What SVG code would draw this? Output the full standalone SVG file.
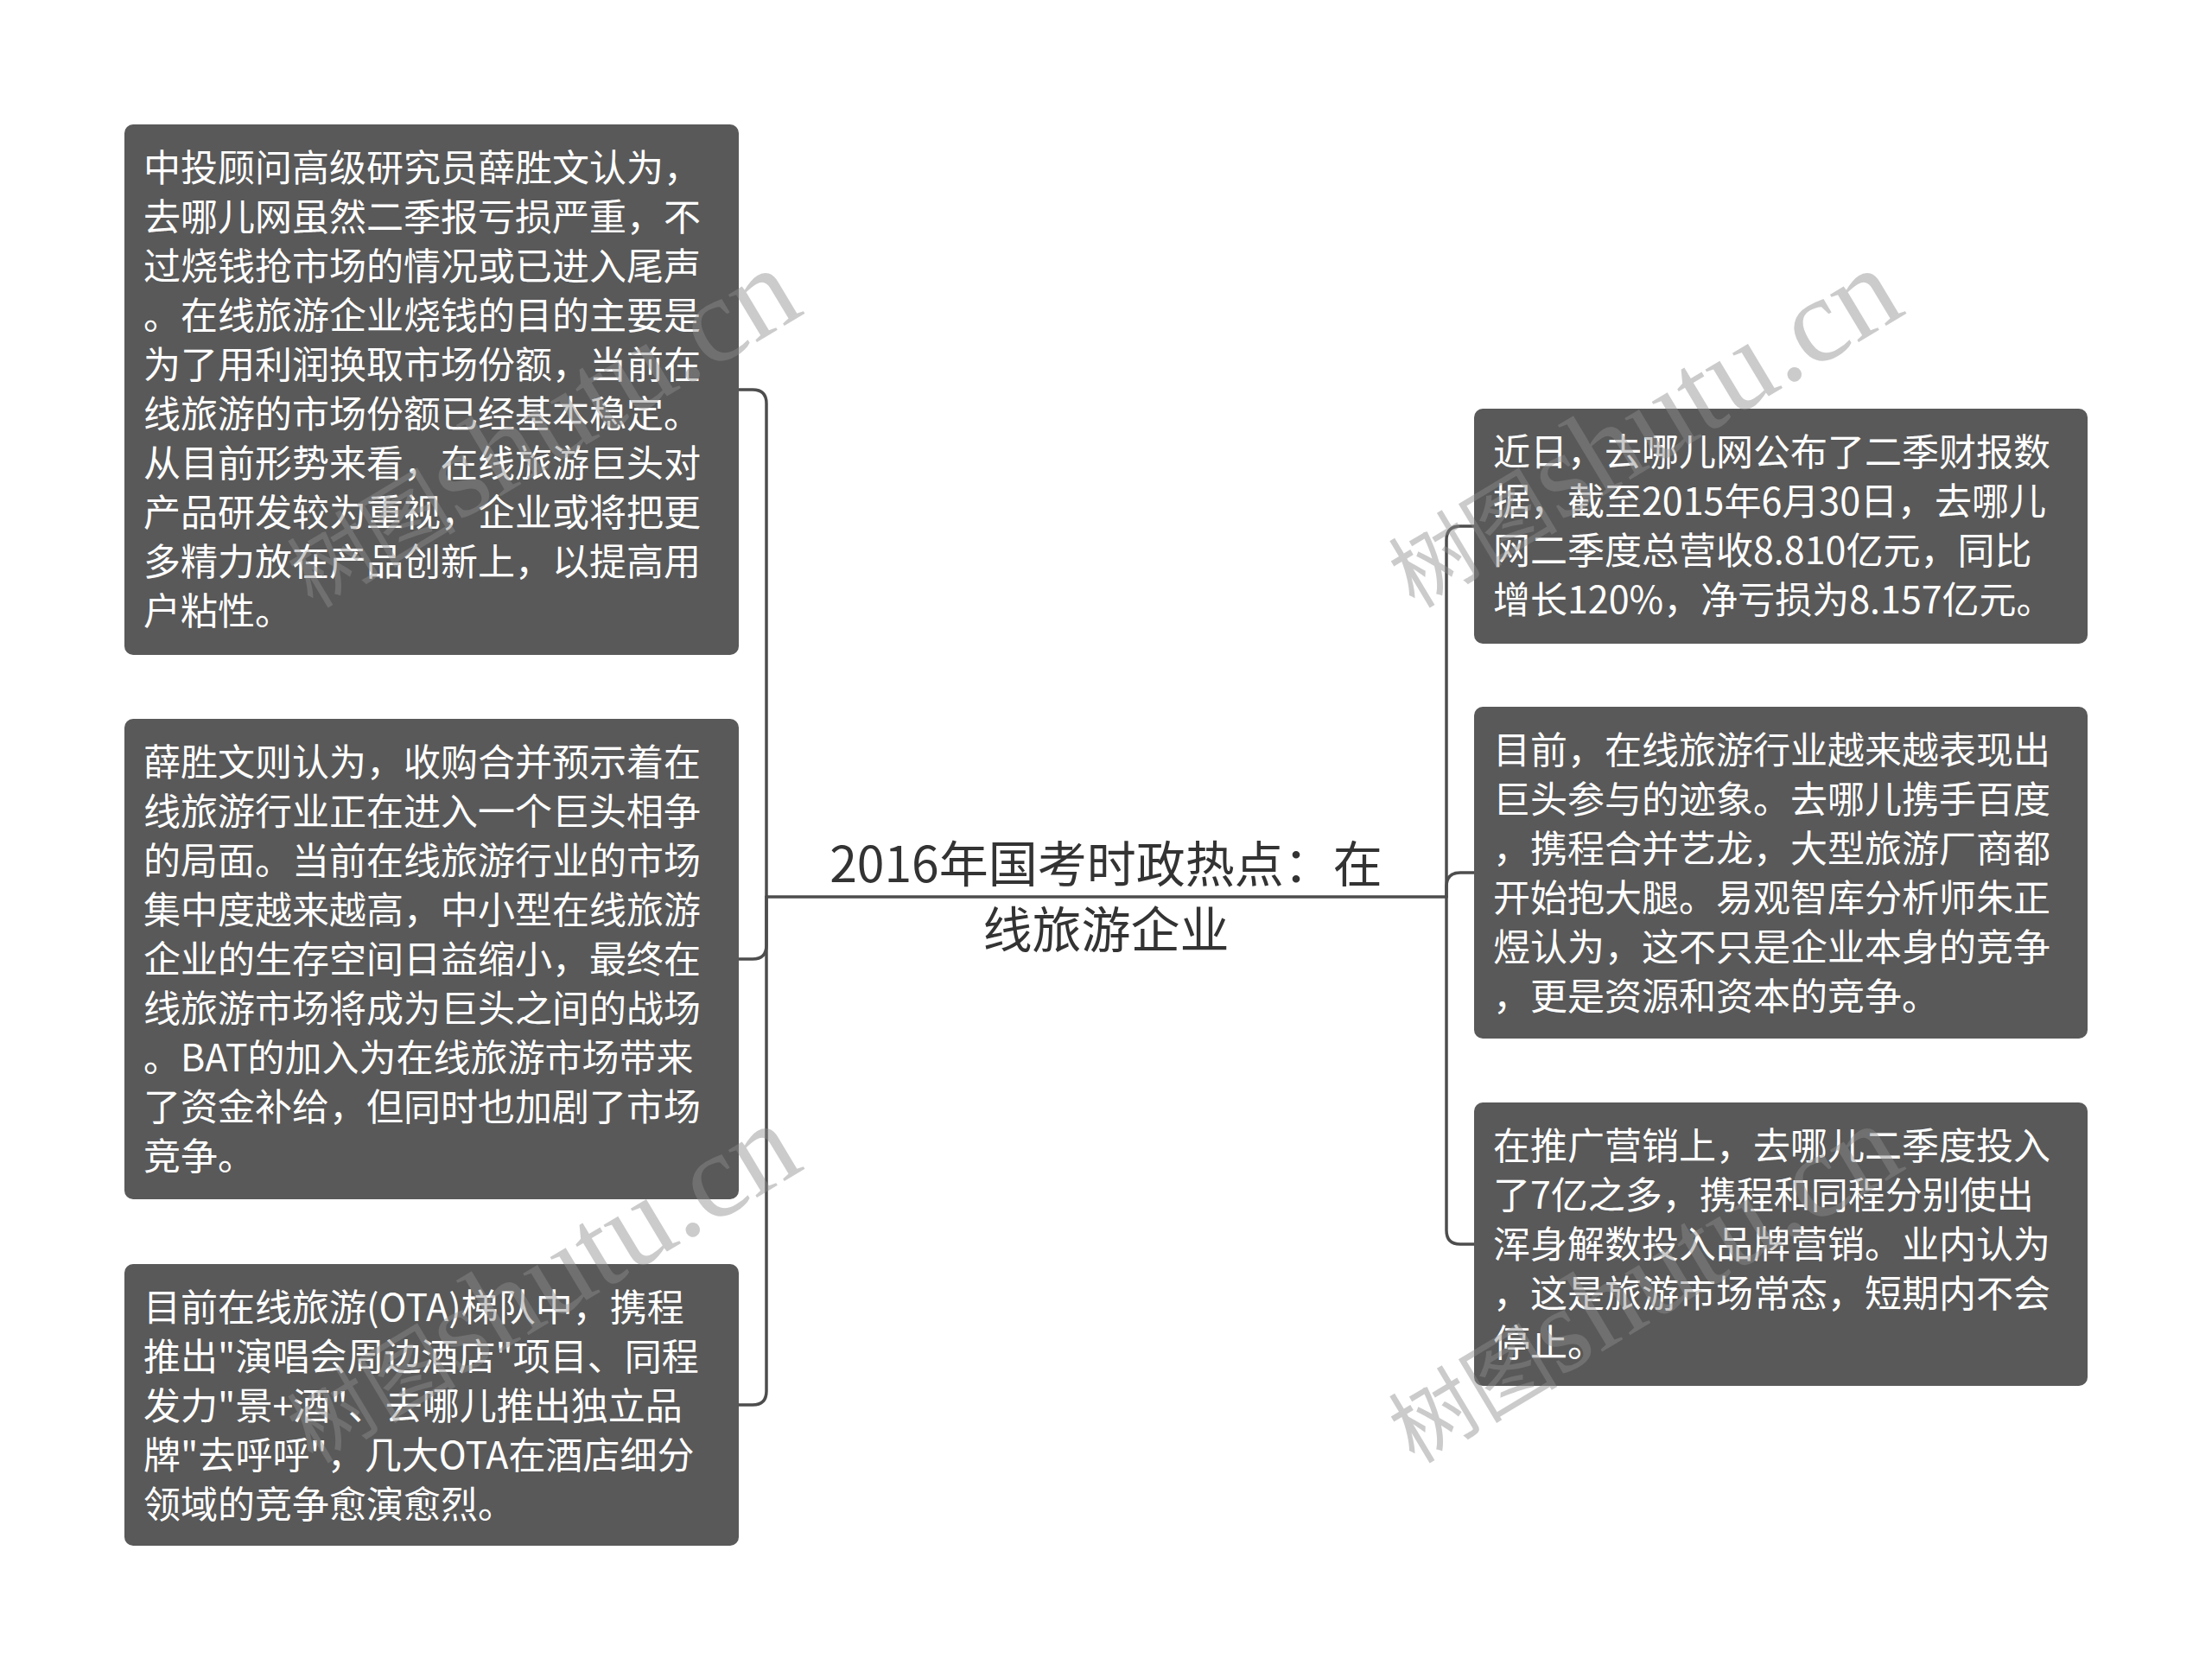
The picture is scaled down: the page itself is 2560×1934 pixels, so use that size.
<svg xmlns="http://www.w3.org/2000/svg" width="2560" height="1934" viewBox="0 0 2560 1934">
<style>
.box{fill:#595959;}
.bt{font-family:"Noto Sans CJK SC","Noto Sans",sans-serif;font-size:43px;fill:#ffffff;}
.ct{font-family:"Noto Sans CJK SC","Noto Sans",sans-serif;font-size:57px;fill:#333333;text-anchor:middle;}
.conn{fill:none;stroke:#4d4d4d;stroke-width:3.5;stroke-linecap:round;stroke-linejoin:round;}
.wm{font-family:"Liberation Serif","Noto Sans CJK SC",serif;font-size:140px;fill:#8c8c8c;fill-opacity:0.45;}
.wmc{font-size:98px;}
</style>
<rect width="2560" height="1934" fill="#ffffff"/>
<g id="connectors">
<path class="conn" d="M887 1038 H1674"/>
<path class="conn" d="M887 1038 V467 Q887 451 871 451 H855"/>
<path class="conn" d="M887 1038 V1094 Q887 1110 871 1110 H855"/>
<path class="conn" d="M887 1038 V1610 Q887 1626 871 1626 H855"/>
<path class="conn" d="M1674 1038 V625 Q1674 609 1690 609 H1706"/>
<path class="conn" d="M1674 1038 V1026 Q1674 1010 1690 1010 H1706"/>
<path class="conn" d="M1674 1038 V1424 Q1674 1440 1690 1440 H1706"/>
</g>
<g id="center">
<text class="ct" x="1280" y="1021">2016年国考时政热点：在</text>
<text class="ct" x="1280" y="1097">线旅游企业</text>
</g>
<g id="node-l1">
<rect class="box" x="144" y="144" width="711" height="614" rx="10"/>
<text class="bt" x="166" y="210">中投顾问高级研究员薛胜文认为，</text>
<text class="bt" x="166" y="267">去哪儿网虽然二季报亏损严重，不</text>
<text class="bt" x="166" y="324">过烧钱抢市场的情况或已进入尾声</text>
<text class="bt" x="166" y="381">。在线旅游企业烧钱的目的主要是</text>
<text class="bt" x="166" y="438">为了用利润换取市场份额，当前在</text>
<text class="bt" x="166" y="495">线旅游的市场份额已经基本稳定。</text>
<text class="bt" x="166" y="552">从目前形势来看，在线旅游巨头对</text>
<text class="bt" x="166" y="609">产品研发较为重视，企业或将把更</text>
<text class="bt" x="166" y="666">多精力放在产品创新上，以提高用</text>
<text class="bt" x="166" y="723">户粘性。</text>
</g>
<g id="node-l2">
<rect class="box" x="144" y="832" width="711" height="556" rx="10"/>
<text class="bt" x="166" y="898">薛胜文则认为，收购合并预示着在</text>
<text class="bt" x="166" y="955">线旅游行业正在进入一个巨头相争</text>
<text class="bt" x="166" y="1012">的局面。当前在线旅游行业的市场</text>
<text class="bt" x="166" y="1069">集中度越来越高，中小型在线旅游</text>
<text class="bt" x="166" y="1126">企业的生存空间日益缩小，最终在</text>
<text class="bt" x="166" y="1183">线旅游市场将成为巨头之间的战场</text>
<text class="bt" x="166" y="1240">。BAT的加入为在线旅游市场带来</text>
<text class="bt" x="166" y="1297">了资金补给，但同时也加剧了市场</text>
<text class="bt" x="166" y="1354">竞争。</text>
</g>
<g id="node-l3">
<rect class="box" x="144" y="1463" width="711" height="326" rx="10"/>
<text class="bt" x="166" y="1529">目前在线旅游(OTA)梯队中，携程</text>
<text class="bt" x="166" y="1586">推出"演唱会周边酒店"项目、同程</text>
<text class="bt" x="166" y="1643">发力"景+酒"、去哪儿推出独立品</text>
<text class="bt" x="166" y="1700">牌"去呼呼"，几大OTA在酒店细分</text>
<text class="bt" x="166" y="1757">领域的竞争愈演愈烈。</text>
</g>
<g id="node-r1">
<rect class="box" x="1706" y="473" width="710" height="272" rx="10"/>
<text class="bt" x="1728" y="539">近日，去哪儿网公布了二季财报数</text>
<text class="bt" x="1728" y="596">据，截至2015年6月30日，去哪儿</text>
<text class="bt" x="1728" y="653">网二季度总营收8.810亿元，同比</text>
<text class="bt" x="1728" y="710">增长120%，净亏损为8.157亿元。</text>
</g>
<g id="node-r2">
<rect class="box" x="1706" y="818" width="710" height="384" rx="10"/>
<text class="bt" x="1728" y="884">目前，在线旅游行业越来越表现出</text>
<text class="bt" x="1728" y="941">巨头参与的迹象。去哪儿携手百度</text>
<text class="bt" x="1728" y="998">，携程合并艺龙，大型旅游厂商都</text>
<text class="bt" x="1728" y="1055">开始抱大腿。易观智库分析师朱正</text>
<text class="bt" x="1728" y="1112">煜认为，这不只是企业本身的竞争</text>
<text class="bt" x="1728" y="1169">，更是资源和资本的竞争。</text>
</g>
<g id="node-r3">
<rect class="box" x="1706" y="1276" width="710" height="328" rx="10"/>
<text class="bt" x="1728" y="1342">在推广营销上，去哪儿二季度投入</text>
<text class="bt" x="1728" y="1399">了7亿之多，携程和同程分别使出</text>
<text class="bt" x="1728" y="1456">浑身解数投入品牌营销。业内认为</text>
<text class="bt" x="1728" y="1513">，这是旅游市场常态，短期内不会</text>
<text class="bt" x="1728" y="1570">停止。</text>
</g>
<g id="watermarks">
<text class="wm" x="362" y="705" transform="rotate(-31 362 705)"><tspan class="wmc">树图</tspan>shutu.cn</text>
<text class="wm" x="1637" y="705" transform="rotate(-31 1637 705)"><tspan class="wmc">树图</tspan>shutu.cn</text>
<text class="wm" x="362" y="1695" transform="rotate(-31 362 1695)"><tspan class="wmc">树图</tspan>shutu.cn</text>
<text class="wm" x="1637" y="1695" transform="rotate(-31 1637 1695)"><tspan class="wmc">树图</tspan>shutu.cn</text>
</g>
</svg>
